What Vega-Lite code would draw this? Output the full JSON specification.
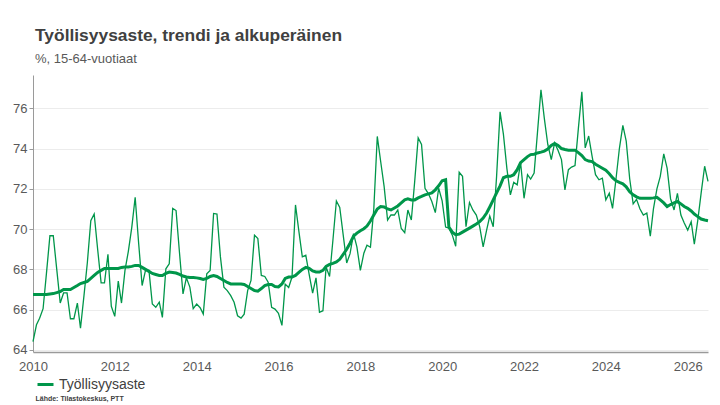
{
  "$schema": "https://vega.github.io/schema/vega-lite/v6.json",
  "width": 675,
  "height": 277,
  "autosize": {"type": "none"},
  "padding": {"left": 33, "top": 75, "right": 12, "bottom": 53},
  "background": "white",
  "title": {
    "text": "Työllisyysaste, trendi ja alkuperäinen",
    "subtitle": "%, 15-64-vuotiaat",
    "anchor": "start",
    "frame": "group",
    "offset": 9,
    "dx": 2,
    "font": "Liberation Sans",
    "fontSize": 17.4,
    "fontWeight": "bold",
    "color": "#404040",
    "subtitleFont": "Liberation Sans",
    "subtitleFontSize": 13,
    "subtitleColor": "#595959",
    "subtitlePadding": 9
  },
  "config": {
    "view": {"stroke": null},
    "font": "Liberation Sans"
  },
  "data": {
    "values": [
      {"d": "2010-01-01", "v": 64.42, "t": 66.75},
      {"d": "2010-02-01", "v": 65.25, "t": 66.75},
      {"d": "2010-03-01", "v": 65.58, "t": 66.75},
      {"d": "2010-04-01", "v": 66.05, "t": 66.75},
      {"d": "2010-05-01", "v": 67.8, "t": 66.75},
      {"d": "2010-06-01", "v": 69.67, "t": 66.78},
      {"d": "2010-07-01", "v": 69.67, "t": 66.8},
      {"d": "2010-08-01", "v": 68.0, "t": 66.85},
      {"d": "2010-09-01", "v": 66.33, "t": 66.9},
      {"d": "2010-10-01", "v": 66.83, "t": 67.0},
      {"d": "2010-11-01", "v": 66.83, "t": 67.0},
      {"d": "2010-12-01", "v": 65.55, "t": 67.0},
      {"d": "2011-01-01", "v": 65.55, "t": 67.1},
      {"d": "2011-02-01", "v": 66.33, "t": 67.2},
      {"d": "2011-03-01", "v": 65.08, "t": 67.3},
      {"d": "2011-04-01", "v": 66.7, "t": 67.35},
      {"d": "2011-05-01", "v": 68.33, "t": 67.4},
      {"d": "2011-06-01", "v": 70.42, "t": 67.55},
      {"d": "2011-07-01", "v": 70.75, "t": 67.7},
      {"d": "2011-08-01", "v": 69.0, "t": 67.85},
      {"d": "2011-09-01", "v": 67.33, "t": 67.95},
      {"d": "2011-10-01", "v": 67.33, "t": 68.05},
      {"d": "2011-11-01", "v": 68.75, "t": 68.05},
      {"d": "2011-12-01", "v": 66.17, "t": 68.05},
      {"d": "2012-01-01", "v": 65.67, "t": 68.05},
      {"d": "2012-02-01", "v": 67.42, "t": 68.05},
      {"d": "2012-03-01", "v": 66.33, "t": 68.1},
      {"d": "2012-04-01", "v": 67.95, "t": 68.12},
      {"d": "2012-05-01", "v": 68.9, "t": 68.12},
      {"d": "2012-06-01", "v": 70.1, "t": 68.15},
      {"d": "2012-07-01", "v": 71.58, "t": 68.2},
      {"d": "2012-08-01", "v": 69.3, "t": 68.2},
      {"d": "2012-09-01", "v": 67.2, "t": 68.1},
      {"d": "2012-10-01", "v": 67.95, "t": 68.0},
      {"d": "2012-11-01", "v": 67.95, "t": 67.9},
      {"d": "2012-12-01", "v": 66.28, "t": 67.8},
      {"d": "2013-01-01", "v": 66.12, "t": 67.75},
      {"d": "2013-02-01", "v": 66.37, "t": 67.7},
      {"d": "2013-03-01", "v": 65.62, "t": 67.7},
      {"d": "2013-04-01", "v": 68.03, "t": 67.8},
      {"d": "2013-05-01", "v": 68.28, "t": 67.87},
      {"d": "2013-06-01", "v": 71.03, "t": 67.85},
      {"d": "2013-07-01", "v": 70.92, "t": 67.82},
      {"d": "2013-08-01", "v": 68.8, "t": 67.75},
      {"d": "2013-09-01", "v": 66.78, "t": 67.67},
      {"d": "2013-10-01", "v": 67.58, "t": 67.62},
      {"d": "2013-11-01", "v": 67.12, "t": 67.6},
      {"d": "2013-12-01", "v": 66.05, "t": 67.6},
      {"d": "2014-01-01", "v": 66.28, "t": 67.58},
      {"d": "2014-02-01", "v": 66.1, "t": 67.55},
      {"d": "2014-03-01", "v": 65.78, "t": 67.5},
      {"d": "2014-04-01", "v": 67.78, "t": 67.55},
      {"d": "2014-05-01", "v": 67.95, "t": 67.65},
      {"d": "2014-06-01", "v": 70.78, "t": 67.7},
      {"d": "2014-07-01", "v": 70.75, "t": 67.65},
      {"d": "2014-08-01", "v": 68.62, "t": 67.55},
      {"d": "2014-09-01", "v": 67.12, "t": 67.45},
      {"d": "2014-10-01", "v": 66.95, "t": 67.35},
      {"d": "2014-11-01", "v": 66.7, "t": 67.28},
      {"d": "2014-12-01", "v": 66.37, "t": 67.28},
      {"d": "2015-01-01", "v": 65.7, "t": 67.28},
      {"d": "2015-02-01", "v": 65.58, "t": 67.28},
      {"d": "2015-03-01", "v": 65.78, "t": 67.25},
      {"d": "2015-04-01", "v": 66.95, "t": 67.15},
      {"d": "2015-05-01", "v": 67.45, "t": 67.05},
      {"d": "2015-06-01", "v": 69.7, "t": 66.95},
      {"d": "2015-07-01", "v": 69.53, "t": 66.92},
      {"d": "2015-08-01", "v": 67.7, "t": 67.05},
      {"d": "2015-09-01", "v": 67.65, "t": 67.2},
      {"d": "2015-10-01", "v": 67.37, "t": 67.25},
      {"d": "2015-11-01", "v": 66.12, "t": 67.25},
      {"d": "2015-12-01", "v": 66.03, "t": 67.15},
      {"d": "2016-01-01", "v": 65.82, "t": 67.13},
      {"d": "2016-02-01", "v": 65.22, "t": 67.28},
      {"d": "2016-03-01", "v": 67.27, "t": 67.55},
      {"d": "2016-04-01", "v": 67.1, "t": 67.62},
      {"d": "2016-05-01", "v": 67.62, "t": 67.62},
      {"d": "2016-06-01", "v": 71.2, "t": 67.7},
      {"d": "2016-07-01", "v": 69.9, "t": 67.85},
      {"d": "2016-08-01", "v": 68.62, "t": 68.0},
      {"d": "2016-09-01", "v": 68.7, "t": 68.1},
      {"d": "2016-10-01", "v": 67.75, "t": 68.05},
      {"d": "2016-11-01", "v": 66.82, "t": 67.92},
      {"d": "2016-12-01", "v": 67.58, "t": 67.87},
      {"d": "2017-01-01", "v": 65.87, "t": 67.87},
      {"d": "2017-02-01", "v": 65.95, "t": 67.95},
      {"d": "2017-03-01", "v": 68.12, "t": 68.15},
      {"d": "2017-04-01", "v": 67.65, "t": 68.25},
      {"d": "2017-05-01", "v": 69.45, "t": 68.3},
      {"d": "2017-06-01", "v": 71.4, "t": 68.37},
      {"d": "2017-07-01", "v": 71.08, "t": 68.5},
      {"d": "2017-08-01", "v": 69.7, "t": 68.75},
      {"d": "2017-09-01", "v": 68.32, "t": 69.0},
      {"d": "2017-10-01", "v": 68.78, "t": 69.3},
      {"d": "2017-11-01", "v": 69.78, "t": 69.65},
      {"d": "2017-12-01", "v": 69.12, "t": 69.8},
      {"d": "2018-01-01", "v": 67.95, "t": 69.92},
      {"d": "2018-02-01", "v": 68.8, "t": 70.02},
      {"d": "2018-03-01", "v": 69.2, "t": 70.15},
      {"d": "2018-04-01", "v": 69.1, "t": 70.4},
      {"d": "2018-05-01", "v": 71.0, "t": 70.7},
      {"d": "2018-06-01", "v": 74.6, "t": 71.0},
      {"d": "2018-07-01", "v": 73.37, "t": 71.12},
      {"d": "2018-08-01", "v": 72.12, "t": 71.1},
      {"d": "2018-09-01", "v": 70.45, "t": 71.0},
      {"d": "2018-10-01", "v": 70.7, "t": 70.95},
      {"d": "2018-11-01", "v": 70.7, "t": 71.05},
      {"d": "2018-12-01", "v": 70.95, "t": 71.15},
      {"d": "2019-01-01", "v": 70.03, "t": 71.3},
      {"d": "2019-02-01", "v": 69.82, "t": 71.45},
      {"d": "2019-03-01", "v": 70.95, "t": 71.5},
      {"d": "2019-04-01", "v": 70.45, "t": 71.45},
      {"d": "2019-05-01", "v": 72.37, "t": 71.45},
      {"d": "2019-06-01", "v": 74.53, "t": 71.55},
      {"d": "2019-07-01", "v": 74.2, "t": 71.62},
      {"d": "2019-08-01", "v": 72.03, "t": 71.7},
      {"d": "2019-09-01", "v": 71.75, "t": 71.75},
      {"d": "2019-10-01", "v": 71.37, "t": 71.8},
      {"d": "2019-11-01", "v": 70.82, "t": 71.95},
      {"d": "2019-12-01", "v": 72.03, "t": 72.15},
      {"d": "2020-01-01", "v": 71.4, "t": 72.4},
      {"d": "2020-02-01", "v": 70.1, "t": 72.45},
      {"d": "2020-03-01", "v": 70.05, "t": 70.1},
      {"d": "2020-04-01", "v": 69.7, "t": 69.85},
      {"d": "2020-05-01", "v": 69.15, "t": 69.72},
      {"d": "2020-06-01", "v": 72.82, "t": 69.75},
      {"d": "2020-07-01", "v": 72.62, "t": 69.85},
      {"d": "2020-08-01", "v": 70.12, "t": 69.95},
      {"d": "2020-09-01", "v": 71.32, "t": 70.05},
      {"d": "2020-10-01", "v": 70.95, "t": 70.15},
      {"d": "2020-11-01", "v": 70.7, "t": 70.25},
      {"d": "2020-12-01", "v": 70.12, "t": 70.37},
      {"d": "2021-01-01", "v": 69.12, "t": 70.55},
      {"d": "2021-02-01", "v": 69.95, "t": 70.8},
      {"d": "2021-03-01", "v": 70.65, "t": 71.1},
      {"d": "2021-04-01", "v": 70.12, "t": 71.45},
      {"d": "2021-05-01", "v": 72.62, "t": 71.8},
      {"d": "2021-06-01", "v": 75.82, "t": 72.15},
      {"d": "2021-07-01", "v": 74.7, "t": 72.55},
      {"d": "2021-08-01", "v": 73.0, "t": 72.62},
      {"d": "2021-09-01", "v": 71.7, "t": 72.62},
      {"d": "2021-10-01", "v": 72.32, "t": 72.7},
      {"d": "2021-11-01", "v": 72.2, "t": 72.95},
      {"d": "2021-12-01", "v": 73.32, "t": 73.3},
      {"d": "2022-01-01", "v": 71.53, "t": 73.45},
      {"d": "2022-02-01", "v": 72.7, "t": 73.6},
      {"d": "2022-03-01", "v": 72.48, "t": 73.7},
      {"d": "2022-04-01", "v": 72.78, "t": 73.72},
      {"d": "2022-05-01", "v": 74.8, "t": 73.78},
      {"d": "2022-06-01", "v": 76.92, "t": 73.82},
      {"d": "2022-07-01", "v": 75.5, "t": 73.87},
      {"d": "2022-08-01", "v": 74.2, "t": 73.97},
      {"d": "2022-09-01", "v": 73.45, "t": 74.15},
      {"d": "2022-10-01", "v": 74.28, "t": 74.25},
      {"d": "2022-11-01", "v": 73.9, "t": 74.15},
      {"d": "2022-12-01", "v": 73.45, "t": 74.0},
      {"d": "2023-01-01", "v": 71.95, "t": 73.95},
      {"d": "2023-02-01", "v": 72.95, "t": 73.92},
      {"d": "2023-03-01", "v": 73.08, "t": 73.92},
      {"d": "2023-04-01", "v": 73.15, "t": 73.92},
      {"d": "2023-05-01", "v": 75.0, "t": 73.8},
      {"d": "2023-06-01", "v": 76.82, "t": 73.65},
      {"d": "2023-07-01", "v": 74.03, "t": 73.45},
      {"d": "2023-08-01", "v": 74.62, "t": 73.38},
      {"d": "2023-09-01", "v": 73.6, "t": 73.35},
      {"d": "2023-10-01", "v": 72.7, "t": 73.22},
      {"d": "2023-11-01", "v": 72.45, "t": 73.12},
      {"d": "2023-12-01", "v": 72.53, "t": 73.02},
      {"d": "2024-01-01", "v": 71.45, "t": 72.92},
      {"d": "2024-02-01", "v": 71.78, "t": 72.75},
      {"d": "2024-03-01", "v": 71.03, "t": 72.55},
      {"d": "2024-04-01", "v": 72.5, "t": 72.4},
      {"d": "2024-05-01", "v": 74.0, "t": 72.32},
      {"d": "2024-06-01", "v": 75.15, "t": 72.25},
      {"d": "2024-07-01", "v": 74.37, "t": 72.1},
      {"d": "2024-08-01", "v": 72.5, "t": 71.85},
      {"d": "2024-09-01", "v": 71.25, "t": 71.7},
      {"d": "2024-10-01", "v": 71.48, "t": 71.6},
      {"d": "2024-11-01", "v": 71.0, "t": 71.53},
      {"d": "2024-12-01", "v": 70.7, "t": 71.53},
      {"d": "2025-01-01", "v": 70.8, "t": 71.53},
      {"d": "2025-02-01", "v": 69.65, "t": 71.53},
      {"d": "2025-03-01", "v": 71.0, "t": 71.55},
      {"d": "2025-04-01", "v": 72.0, "t": 71.58},
      {"d": "2025-05-01", "v": 72.62, "t": 71.45},
      {"d": "2025-06-01", "v": 73.73, "t": 71.3},
      {"d": "2025-07-01", "v": 73.03, "t": 71.12},
      {"d": "2025-08-01", "v": 71.5, "t": 71.22},
      {"d": "2025-09-01", "v": 70.95, "t": 71.3},
      {"d": "2025-10-01", "v": 71.78, "t": 71.37},
      {"d": "2025-11-01", "v": 70.7, "t": 71.25},
      {"d": "2025-12-01", "v": 70.3, "t": 71.12},
      {"d": "2026-01-01", "v": 69.95, "t": 71.03},
      {"d": "2026-02-01", "v": 70.37, "t": 70.9},
      {"d": "2026-03-01", "v": 69.25, "t": 70.75},
      {"d": "2026-04-01", "v": 70.45, "t": 70.62},
      {"d": "2026-05-01", "v": 71.8, "t": 70.5},
      {"d": "2026-06-01", "v": 73.12, "t": 70.45},
      {"d": "2026-07-01", "v": 72.37, "t": 70.42}
    ]
  },
  "encoding": {
    "x": {
      "field": "d",
      "type": "temporal",
      "scale": {"type": "utc", "domain": ["2010-01-01", "2026-07-01"], "nice": false},
      "axis": {
        "title": "Lähde: Tilastokeskus, PTT",
        "titleFont": "Liberation Sans",
        "titleFontSize": 7,
        "titleFontWeight": "bold",
        "titleColor": "#404040",
        "titleAnchor": "start",
        "titleAlign": "left",
        "titleBaseline": "alphabetic",
        "titleX": 2,
        "titleY": 48,
        "format": "%Y",
        "tickCount": {"interval": "year", "step": 2},
        "ticks": false,
        "grid": false,
        "labelFontSize": 13,
        "labelColor": "#595959",
        "labelPadding": 8,
        "labelFlush": false,
        "domainColor": "#9a9a9a",
        "domainWidth": 1.5
      }
    },
    "y": {
      "type": "quantitative",
      "scale": {"domain": [63.9, 77.65], "nice": false, "zero": false},
      "axis": {
        "title": null,
        "values": [64, 66, 68, 70, 72, 74, 76],
        "tickSize": 4,
        "tickColor": "#9a9a9a",
        "labelPadding": 2,
        "labelFontSize": 13,
        "labelColor": "#595959",
        "domainColor": "#9a9a9a",
        "gridColor": "#ececec",
        "gridWidth": 1
      }
    }
  },
  "layer": [
    {
      "mark": {"type": "line", "color": "#00964A", "strokeWidth": 1.3, "interpolate": "linear"},
      "encoding": {"y": {"field": "v", "type": "quantitative"}}
    },
    {
      "mark": {"type": "line", "strokeWidth": 3, "interpolate": "linear"},
      "encoding": {
        "y": {"field": "t", "type": "quantitative"},
        "color": {
          "datum": "Työllisyysaste",
          "scale": {"domain": ["Työllisyysaste"], "range": ["#00964A"]},
          "legend": {
            "title": null,
            "orient": "none",
            "legendX": 3,
            "legendY": 300,
            "padding": 0,
            "symbolType": "stroke",
            "symbolSize": 256,
            "symbolStrokeWidth": 3,
            "labelFontSize": 14,
            "labelColor": "#404040",
            "labelOffset": 4
          }
        }
      }
    }
  ]
}
